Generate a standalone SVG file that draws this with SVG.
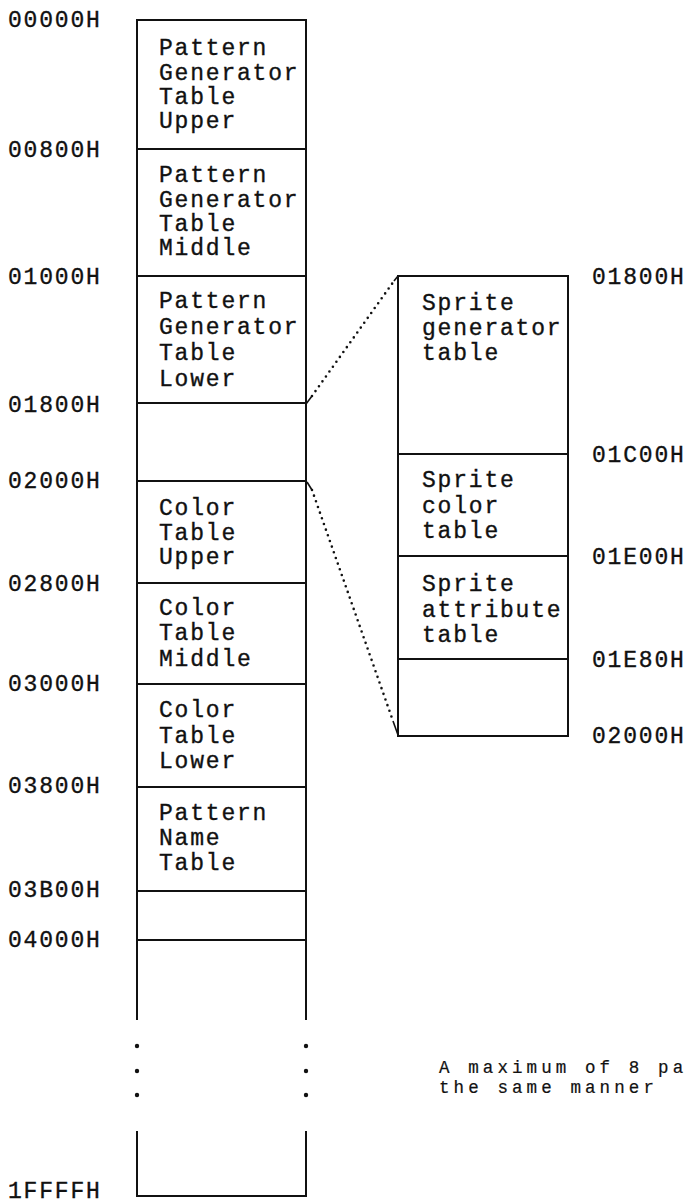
<svg xmlns="http://www.w3.org/2000/svg" width="688" height="1204" viewBox="0 0 688 1204">
<style>
.bg{fill:#fff}
.box{fill:none;stroke:#111;stroke-width:2}
.ln{stroke:#111;stroke-width:2;fill:none}
.t{font-family:"Liberation Mono","DejaVu Sans Mono",monospace;font-size:23px;letter-spacing:1.8px;fill:#111;stroke:#111;stroke-width:0.35}
.n{font-family:"Liberation Mono","DejaVu Sans Mono",monospace;font-size:17.5px;letter-spacing:4.1px;fill:#111;stroke:#111;stroke-width:0.2}
.dot{stroke:#111;stroke-width:2.6;stroke-linecap:round;stroke-dasharray:0 6;fill:none}
.tick{stroke:#111;stroke-width:1.6;fill:none}
</style>
<rect class="bg" x="0" y="0" width="688" height="1204"/>
<g id="addresses-left">
<text class="t" x="8" y="27">00000H</text>
<text class="t" x="8" y="157">00800H</text>
<text class="t" x="8" y="284">01000H</text>
<text class="t" x="8" y="412">01800H</text>
<text class="t" x="8" y="488">02000H</text>
<text class="t" x="8" y="591">02800H</text>
<text class="t" x="8" y="691">03000H</text>
<text class="t" x="8" y="793">03800H</text>
<text class="t" x="8" y="897">03B00H</text>
<text class="t" x="8" y="947">04000H</text>
<text class="t" x="8" y="1198">1FFFFH</text>
</g>
<g id="vram-column">
<path class="ln" d="M137,1020 V20 H306 V1020"/>
<path class="ln" d="M137,1131 V1196 H306 V1131"/>
<g fill="#111">
<circle cx="137" cy="1046" r="2.2"/><circle cx="137" cy="1071" r="2.2"/><circle cx="137" cy="1095" r="2.2"/>
<circle cx="306" cy="1046" r="2.2"/><circle cx="306" cy="1071" r="2.2"/><circle cx="306" cy="1095" r="2.2"/>
</g>
</g>
<g id="pgt-upper">
<text class="t" x="159" y="55">Pattern</text>
<text class="t" x="159" y="80">Generator</text>
<text class="t" x="159" y="104">Table</text>
<text class="t" x="159" y="128">Upper</text>
</g>
<g id="pgt-middle">
<line class="ln" x1="137" y1="149" x2="306" y2="149"/>
<text class="t" x="159" y="182">Pattern</text>
<text class="t" x="159" y="207">Generator</text>
<text class="t" x="159" y="231">Table</text>
<text class="t" x="159" y="255">Middle</text>
</g>
<g id="pgt-lower">
<line class="ln" x1="137" y1="276" x2="306" y2="276"/>
<text class="t" x="159" y="308">Pattern</text>
<text class="t" x="159" y="334">Generator</text>
<text class="t" x="159" y="360">Table</text>
<text class="t" x="159" y="386">Lower</text>
</g>
<g id="sprite-area">
<line class="ln" x1="137" y1="403" x2="306" y2="403"/>
</g>
<g id="ct-upper">
<line class="ln" x1="137" y1="481" x2="306" y2="481"/>
<text class="t" x="159" y="515">Color</text>
<text class="t" x="159" y="540">Table</text>
<text class="t" x="159" y="564">Upper</text>
</g>
<g id="ct-middle">
<line class="ln" x1="137" y1="583" x2="306" y2="583"/>
<text class="t" x="159" y="615">Color</text>
<text class="t" x="159" y="640">Table</text>
<text class="t" x="159" y="666">Middle</text>
</g>
<g id="ct-lower">
<line class="ln" x1="137" y1="684" x2="306" y2="684"/>
<text class="t" x="159" y="717">Color</text>
<text class="t" x="159" y="743">Table</text>
<text class="t" x="159" y="768">Lower</text>
</g>
<g id="pnt">
<line class="ln" x1="137" y1="787" x2="306" y2="787"/>
<text class="t" x="159" y="820">Pattern</text>
<text class="t" x="159" y="845">Name</text>
<text class="t" x="159" y="870">Table</text>
</g>
<g id="unused">
<line class="ln" x1="137" y1="891" x2="306" y2="891"/>
<line class="ln" x1="137" y1="940" x2="306" y2="940"/>
</g>
<g id="sprite-detail">
<rect class="box" x="398" y="276" width="170" height="460"/>
<line class="ln" x1="398" y1="454" x2="568" y2="454"/>
<line class="ln" x1="398" y1="556" x2="568" y2="556"/>
<line class="ln" x1="398" y1="659" x2="568" y2="659"/>
<text class="t" x="422" y="310">Sprite</text>
<text class="t" x="422" y="335">generator</text>
<text class="t" x="422" y="360">table</text>
<text class="t" x="422" y="487">Sprite</text>
<text class="t" x="422" y="513">color</text>
<text class="t" x="422" y="538">table</text>
<text class="t" x="422" y="591">Sprite</text>
<text class="t" x="422" y="617">attribute</text>
<text class="t" x="422" y="642">table</text>
</g>
<g id="addresses-right">
<text class="t" x="592" y="284">01800H</text>
<text class="t" x="592" y="462">01C00H</text>
<text class="t" x="592" y="564">01E00H</text>
<text class="t" x="592" y="667">01E80H</text>
<text class="t" x="592" y="743">02000H</text>
</g>
<g id="connectors">
<line class="dot" x1="312" y1="396" x2="394" y2="281"/>
<line class="tick" x1="306" y1="404" x2="312" y2="396"/>
<line class="tick" x1="398" y1="276" x2="394" y2="281"/>
<line class="dot" x1="312" y1="490" x2="393" y2="721"/>
<line class="tick" x1="307" y1="482" x2="312" y2="490"/>
<line class="tick" x1="393" y1="721" x2="398" y2="735"/>
</g>
<g id="note">
<text class="n" x="439" y="1073">A maximum of 8 pa</text>
<text class="n" x="439" y="1093">the same manner</text>
</g>
</svg>
